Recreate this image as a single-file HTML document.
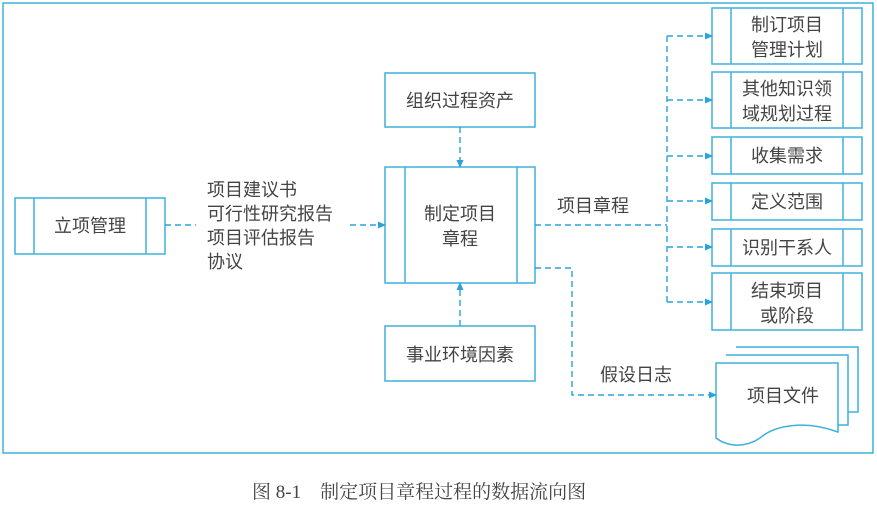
<!DOCTYPE html>
<html><head><meta charset="utf-8"><style>
html,body{margin:0;padding:0;background:#fff;}
svg{display:block;}
text{font-family:"Liberation Sans","Noto Sans CJK SC",sans-serif;font-size:18px;fill:#444;}
</style></head><body>
<svg width="877" height="512" viewBox="0 0 877 512" xmlns="http://www.w3.org/2000/svg">
<defs><marker id="a" markerWidth="8" markerHeight="8" refX="7" refY="4" orient="auto" markerUnits="userSpaceOnUse"><path d="M0,0.5 L8,4 L0,7.5 Z" fill="#2aa3dc"/></marker></defs>
<g fill="none" stroke="#3fb0dc" stroke-width="1.5">
<rect x="3" y="3" width="870" height="450"/>
<rect x="15" y="198" width="150" height="56"/><line x1="34" y1="198" x2="34" y2="254"/><line x1="146" y1="198" x2="146" y2="254"/>
<rect x="385" y="73" width="150" height="54"/>
<rect x="385" y="167" width="150" height="116"/><line x1="405" y1="167" x2="405" y2="283"/><line x1="517" y1="167" x2="517" y2="283"/>
<rect x="385" y="326" width="150" height="55"/>
<g>
<rect x="712" y="8" width="150" height="56"/><line x1="731" y1="8" x2="731" y2="64"/><line x1="843" y1="8" x2="843" y2="64"/>
<rect x="712" y="72" width="150" height="56"/><line x1="731" y1="72" x2="731" y2="128"/><line x1="843" y1="72" x2="843" y2="128"/>
<rect x="712" y="137" width="150" height="37"/><line x1="731" y1="137" x2="731" y2="174"/><line x1="843" y1="137" x2="843" y2="174"/>
<rect x="712" y="183" width="150" height="37"/><line x1="731" y1="183" x2="731" y2="220"/><line x1="843" y1="183" x2="843" y2="220"/>
<rect x="712" y="229" width="150" height="37"/><line x1="731" y1="229" x2="731" y2="266"/><line x1="843" y1="229" x2="843" y2="266"/>
<rect x="712" y="273" width="150" height="57"/><line x1="731" y1="273" x2="731" y2="330"/><line x1="843" y1="273" x2="843" y2="330"/>
</g>
<path d="M736,347 H858 V412 H848" fill="#fff"/>
<path d="M726,355 H848 V425 H838" fill="#fff"/>
<path d="M716,363 H838 V432 C805,420 775,425 760,438 C745,448 728,447 716,438 Z" fill="#fff"/>
</g>
<g fill="none" stroke="#2aa3dc" stroke-width="1.4" stroke-dasharray="6,4">
<line x1="165" y1="225" x2="196" y2="225"/>
<line x1="350" y1="225" x2="385" y2="225" marker-end="url(#a)"/>
<line x1="460" y1="127" x2="460" y2="167" marker-end="url(#a)"/>
<line x1="460" y1="326" x2="460" y2="283" marker-end="url(#a)"/>
<polyline points="535,225 667,225"/>
<line x1="667" y1="36" x2="667" y2="302"/>
<line x1="667" y1="36" x2="712" y2="36" marker-end="url(#a)"/>
<line x1="667" y1="100" x2="712" y2="100" marker-end="url(#a)"/>
<line x1="667" y1="156" x2="712" y2="156" marker-end="url(#a)"/>
<line x1="667" y1="201" x2="712" y2="201" marker-end="url(#a)"/>
<line x1="667" y1="247" x2="712" y2="247" marker-end="url(#a)"/>
<line x1="667" y1="302" x2="712" y2="302" marker-end="url(#a)"/>
<polyline points="535,268 572,268 572,395 716,395" marker-end="url(#a)"/>
</g>
<text x="90" y="232" text-anchor="middle">立项管理</text>
<text x="460" y="107" text-anchor="middle">组织过程资产</text>
<text x="460" y="220" text-anchor="middle">制定项目</text>
<text x="460" y="245" text-anchor="middle">章程</text>
<text x="460" y="361" text-anchor="middle">事业环境因素</text>
<text x="207" y="196">项目建议书</text>
<text x="207" y="220">可行性研究报告</text>
<text x="207" y="244">项目评估报告</text>
<text x="207" y="268">协议</text>
<text x="557" y="212">项目章程</text>
<text x="600" y="381">假设日志</text>
<text x="787" y="31" text-anchor="middle">制订项目</text>
<text x="787" y="56" text-anchor="middle">管理计划</text>
<text x="787" y="95" text-anchor="middle">其他知识领</text>
<text x="787" y="120" text-anchor="middle">域规划过程</text>
<text x="787" y="162" text-anchor="middle">收集需求</text>
<text x="787" y="208" text-anchor="middle">定义范围</text>
<text x="787" y="254" text-anchor="middle">识别干系人</text>
<text x="787" y="297" text-anchor="middle">结束项目</text>
<text x="787" y="322" text-anchor="middle">或阶段</text>
<text x="783" y="402" text-anchor="middle">项目文件</text>
<text x="252" y="498" style="font-family:'Liberation Serif','Noto Serif CJK SC',serif;font-size:19px;fill:#444">图 8-1　制定项目章程过程的数据流向图</text>
</svg>
</body></html>
